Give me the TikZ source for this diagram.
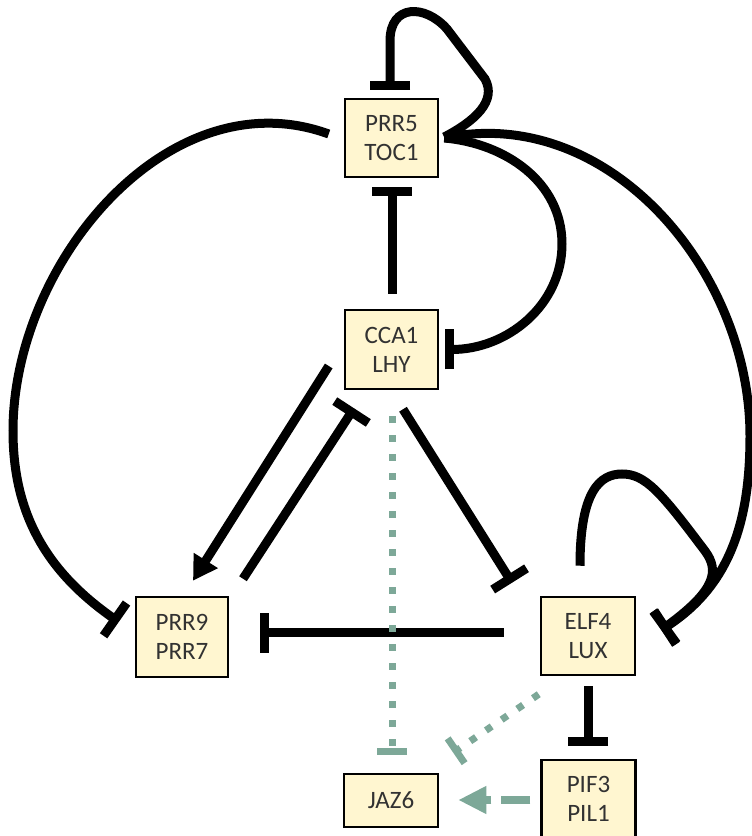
\documentclass[tikz,border=0pt]{standalone}
\usepackage{fontspec}
\setmainfont{Carlito}
\usetikzlibrary{arrows.meta,calc}
\definecolor{boxfill}{RGB}{255,246,208}
\definecolor{boxtext}{RGB}{50,50,50}
\definecolor{teal}{RGB}{125,168,152}
\tikzset{
  gene/.style={draw=black, line width=2.5pt, fill=boxfill, text=boxtext,
    inner sep=0pt, minimum width=93pt, minimum height=78pt, align=center,
    font=\fontsize{25}{29}\selectfont},
  link/.style={line width=9pt, black},
  inh/.style={link, -{Bar[width=40pt]}},
  act/.style={link, -{Triangle[length=24pt,width=27pt]}},
  tdot/.style={line width=7pt, teal, dash pattern=on 7pt off 12pt},
  tinh/.style={tdot, -{Bar[width=30pt]}},
  tact/.style={line width=8pt, teal, dash pattern=on 29pt off 10pt,
    -{Triangle[length=28pt,width=26pt]}}
}
\begin{document}
\begin{tikzpicture}[x=1pt,y=1pt]
\useasboundingbox (0,0) rectangle (752,836);

% gene boxes
\node[gene] (prr5) at (391.5,698) {PRR5\\TOC1};
\node[gene, minimum height=79pt] (cca) at (391.5,486.5) {CCA1\\LHY};
\node[gene, minimum width=94pt] (elf) at (588,200) {ELF4\\LUX};
\node[gene, minimum width=92pt, minimum height=80pt] (prr9) at (182,199) {PRR9\\PRR7};
\node[gene, minimum width=94pt, minimum height=53pt] (jaz) at (391,35.5) {JAZ6};
\node[gene, minimum width=94pt] (pif) at (588.5,37) {PIF3\\PIL1};

% PRR5/TOC1 self-repression loop
\draw[inh] ($(prr5.east)+(5,1)$) .. controls (475,715) and (497,735) .. (485,757)
  -- (447,807) .. controls (425,832) and (390,832) .. (390,795)
  -- ($(prr5.north)+(-1.5,8)$);

% CCA1/LHY represses PRR5/TOC1
\draw[inh] ($(cca.north)+(0.5,15)$) -- ($(prr5.south)+(0.5,-9)$);

% PRR5/TOC1 represses CCA1/LHY
\draw[inh] ($(prr5.east)+(5,0)$) to[out=-5,in=90] (562,592)
  to[out=-90,in=0] ($(cca.east)+(6,0)$);

% PRR5/TOC1 represses PRR9/PRR7
\draw[inh] ($(prr5.west)+(-15,4)$) to[out=160,in=90] (13,405)
  to[out=-90,in=145] ($(prr9.west)+(-16,15)$);

% PRR5/TOC1 represses ELF4/LUX
\draw[inh] ($(prr5.east)+(5,0)$) to[out=12,in=90] (750,400)
  to[out=-90,in=33] ($(elf.east)+(25,6)$);

% ELF4/LUX self-repression loop
\draw[inh] ($(elf.north)+(-8,30)$) .. controls (580,345) and (600,362) .. (622,362)
  .. controls (645,362) and (660,345) .. (705,285)
  .. controls (720,265) and (715,245) .. ($(elf.east)+(25,6)$);

% triangle CCA1 / PRR9 / ELF4
\draw[act] ($(cca.west)+(-15,-16.5)$) -- ($(prr9.north)+(11,15)$);
\draw[inh] ($(prr9.north)+(61,17)$) -- ($(cca.south)+(-37.5,-18)$);
\draw[inh] ($(cca.south)+(11.5,-19)$) -- ($(elf.north)+(-76,13)$);
\draw[inh] ($(elf.west)+(-36,3)$) -- ($(prr9.east)+(31,4)$);

% ELF4/LUX represses PIF3/PIL1
\draw[inh] ($(elf.south)+(0,-10)$) -- ($(pif.north)+(-0.5,13)$);

% JAZ6 regulation
\draw[tinh] ($(cca.south)+(0.5,-26)$) -- ($(jaz.north)+(1,18)$);
\draw[tinh] ($(elf.south west)+(-1,-18)$) -- ($(jaz.north east)+(14,20)$);
\draw[tact] ($(pif.west)+(-10,-1)$) -- ($(jaz.east)+(19,0.5)$);
\end{tikzpicture}
\end{document}
